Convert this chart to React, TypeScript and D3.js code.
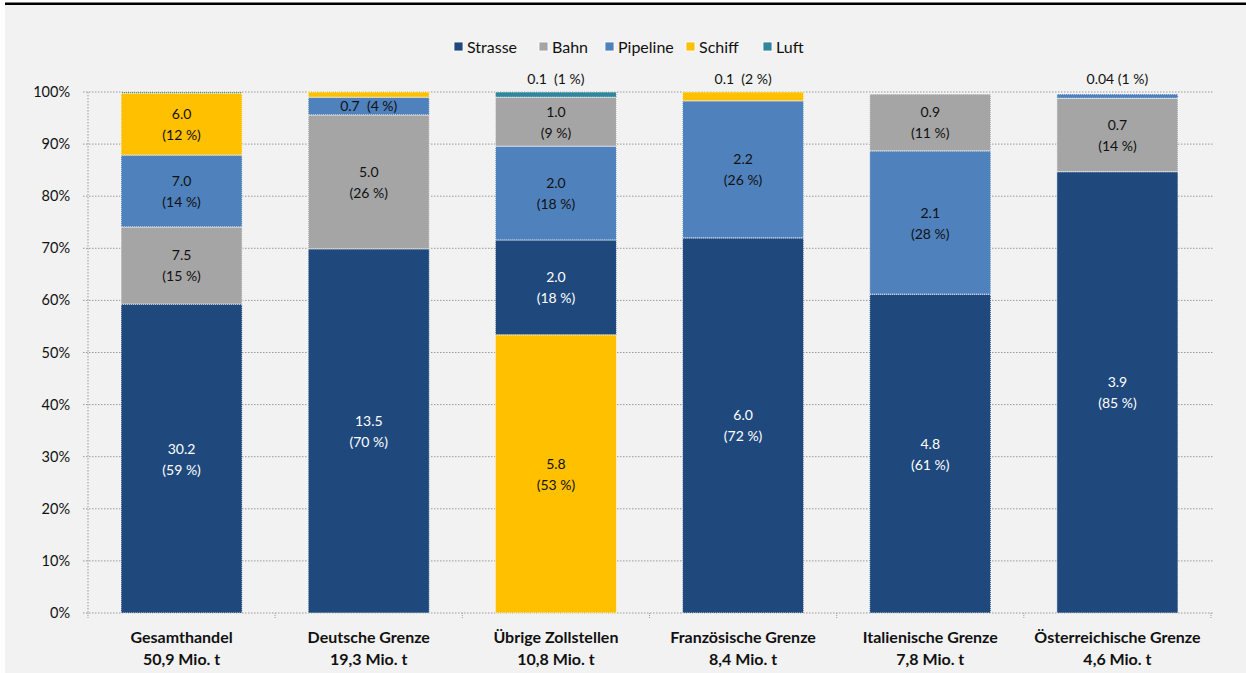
import React from "react";
import * as d3 from "d3";

const categories = ["Gesamthandel", "Deutsche Grenze", "Übrige Zollstellen", "Französische Grenze", "Italienische Grenze", "Österreichische Grenze"];
const totals = ["50,9 Mio. t", "19,3 Mio. t", "10,8 Mio. t", "8,4 Mio. t", "7,8 Mio. t", "4,6 Mio. t"];
const modes = ["Strasse", "Bahn", "Pipeline", "Schiff", "Luft"];
const modeColors = ["#1f497d", "#a5a5a5", "#4f81bd", "#ffc000", "#31859c"];

// shares in % of each category
const shareStrasse = [59.3, 69.9, 18.2, 72.0, 61.2, 84.7];
const shareBahn = [14.8, 25.7, 9.4, 0, 10.9, 14.1];
const sharePipeline = [13.8, 3.4, 18.0, 26.3, 27.5, 0.8];
const shareSchiff = [11.9, 1.0, 53.4, 1.7, 0, 0];
const shareLuft = [0.2, 0, 1.0, 0, 0, 0];

// value labels (Mio. t) and percent labels
const valStrasse = ["30.2", "13.5", "2.0", "6.0", "4.8", "3.9"];
const valBahn = ["7.5", "5.0", "1.0", "", "0.9", "0.7"];
const valPipeline = ["7.0", "0.7", "2.0", "2.2", "2.1", "0.04"];
const valSchiff = ["6.0", "", "5.8", "0.1", "", ""];
const valLuft = ["", "", "0.1", "", "", ""];
const pctStrasse = ["59", "70", "18", "72", "61", "85"];
const pctBahn = ["15", "26", "9", "", "11", "14"];
const pctPipeline = ["14", "4", "18", "26", "28", "1"];
const pctSchiff = ["12", "", "53", "2", "", ""];
const pctLuft = ["", "", "1", "", "", ""];

// stacking order per category (indices into modes, bottom to top)
const stackOrder = [
  [0, 1, 2, 3, 4],
  [0, 1, 2, 3, 4],
  [3, 0, 2, 1, 4],
  [0, 2, 3, 1, 4],
  [0, 2, 1, 3, 4],
  [0, 1, 2, 3, 4],
];

const yTicks = [0, 10, 20, 30, 40, 50, 60, 70, 80, 90, 100];

const W = 1246;
const H = 673;
const FONT = "Lato, 'Open Sans', sans-serif";

export default function App() {
  const shares = [shareStrasse, shareBahn, sharePipeline, shareSchiff, shareLuft];
  const vals = [valStrasse, valBahn, valPipeline, valSchiff, valLuft];
  const pcts = [pctStrasse, pctBahn, pctPipeline, pctSchiff, pctLuft];

  const x = d3.scaleBand<string>().domain(categories).range([88, 1211]).paddingInner(0.353).paddingOuter(0.1765);
  const y = d3.scaleLinear().domain([0, 100]).range([613, 92]);
  const bw = x.bandwidth();

  const segs: any[] = [];
  categories.forEach((c, ci) => {
    let base = 0;
    stackOrder[ci].forEach((mi) => {
      const s = shares[mi][ci];
      if (s <= 0) return;
      segs.push({ c, ci, mi, y0: base, y1: base + s, val: vals[mi][ci], pct: pcts[mi][ci] });
      base += s;
    });
  });

  const legendX = [454, 539, 605, 686, 763];

  return (
    <svg width={W} height={H} style={{ position: "absolute", left: 0, top: 0 }} fontFamily={FONT}>
      <rect x={0} y={0} width={W} height={H} fill="#ffffff" />
      <rect x={5} y={5} width={W - 5} height={H - 5} fill="#f2f2f2" />
      <rect x={5} y={2.5} width={W - 5} height={2.5} fill="#000000" />

      {/* legend */}
      {modes.map((m, i) => (
        <g key={m}>
          <rect x={legendX[i]} y={42} width={9} height={9} fill={modeColors[i]} stroke="#ffffff" strokeWidth={0.8} />
          <text x={legendX[i] + 13} y={52.5} fontSize={16} fill="#111111">{m}</text>
        </g>
      ))}

      {/* grid */}
      {yTicks.map((t) => (
        <g key={t}>
          <line x1={83} x2={1213} y1={y(t)} y2={y(t)} stroke="#9a9a9a" strokeWidth={1} strokeDasharray="1.5,1.5" />
          <text x={70} y={y(t) + 5} textAnchor="end" fontSize={14.5} fill="#111111">{t}%</text>
        </g>
      ))}
      <line x1={88} x2={88} y1={y(100)} y2={y(0)} stroke="#9a9a9a" strokeWidth={1} strokeDasharray="1.5,1.5" />
      {categories.map((c, i) => {
        const bx = (x(c) as number) - (x.step() - bw) / 2;
        return <line key={c} x1={bx} x2={bx} y1={y(0)} y2={y(0) + 5} stroke="#9a9a9a" strokeDasharray="1,1" />;
      })}
      <line x1={1211} x2={1211} y1={y(0)} y2={y(0) + 5} stroke="#9a9a9a" strokeDasharray="1,1" />

      {/* bars */}
      {segs.map((s, i) => (
        <rect key={"r" + i} x={x(s.c)} y={y(s.y1)} width={bw} height={y(s.y0) - y(s.y1)} fill={modeColors[s.mi]} stroke="#ffffff" strokeWidth={1} strokeDasharray="1,1" />
      ))}

      {/* labels */}
      {segs.map((s, i) => {
        if (!s.val) return null;
        const cx = (x(s.c) as number) + bw / 2;
        const h = s.y1 - s.y0;
        const cy = (y(s.y0) + y(s.y1)) / 2;
        const fill = s.mi === 0 ? "#ffffff" : "#111111";
        if (h >= 8) {
          return (
            <g key={"l" + i} fontSize={14} fill={fill} textAnchor="middle">
              <text x={cx} y={cy - 5}>{s.val}</text>
              <text x={cx} y={cy + 16}>({s.pct} %)</text>
            </g>
          );
        }
        if (h >= 3) {
          return (
            <text key={"l" + i} x={cx} y={cy + 5} fontSize={14} fill={fill} textAnchor="middle" style={{ whiteSpace: "pre" }}>
              {`${s.val}  (${s.pct} %)`}
            </text>
          );
        }
        return (
          <text key={"l" + i} x={cx} y={84} fontSize={14} fill="#111111" textAnchor="middle" style={{ whiteSpace: "pre" }}>
            {s.val.length > 3 ? `${s.val} (${s.pct} %)` : `${s.val}  (${s.pct} %)`}
          </text>
        );
      })}

      {/* category labels */}
      {categories.map((c, i) => {
        const cx = (x(c) as number) + bw / 2;
        return (
          <g key={"c" + c} fontSize={16} fontWeight="bold" fill="#111111" textAnchor="middle">
            <text x={cx} y={643}>{c}</text>
            <text x={cx} y={665}>{totals[i]}</text>
          </g>
        );
      })}
    </svg>
  );
}
